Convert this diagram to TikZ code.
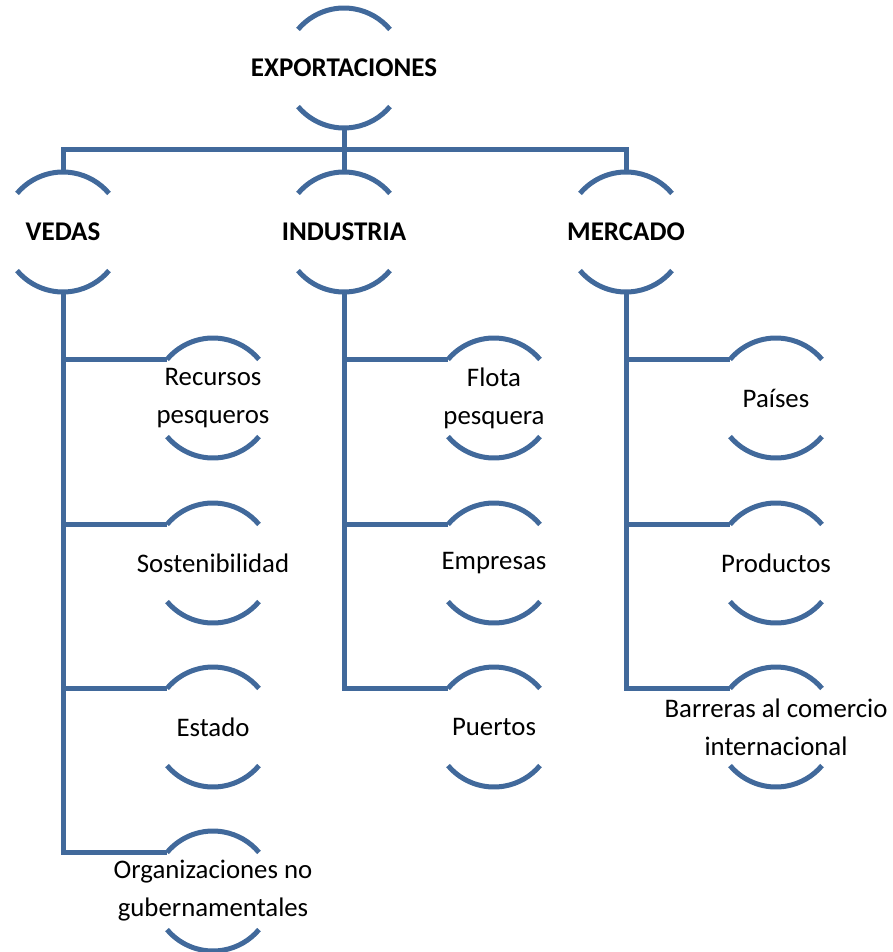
\documentclass[tikz,border=0pt]{standalone}
\usepackage{fontspec}
\setmainfont{Carlito}
\usetikzlibrary{positioning}
\definecolor{arcblue}{RGB}{65,105,155}

\begin{document}
\begin{tikzpicture}[x=1pt, y=1pt,
  hub/.style = {shape = circle, minimum size = 120pt, inner sep = 0pt, outer sep = 0pt},
  head/.style = {font = \fontsize{27}{32}\selectfont\bfseries, inner sep = 0pt},
  leaf/.style = {font = \fontsize{26.8}{38}\selectfont, align = center, inner sep = 0pt},
  link/.style = {draw = arcblue, line width = 5pt}]
\useasboundingbox (0,0) rectangle (893,-952);

\node[hub, label = {[head]center:EXPORTACIONES}] (exp) at (344,-68) {};
\node[hub, label = {[head]center:VEDAS}] (vedas) at (63,-232) {};
\node[hub, label = {[head]center:INDUSTRIA}] (ind) at (344,-232) {};
\node[hub, label = {[head]center:MERCADO}] (merc) at (626,-232) {};

\node[hub, label = {[leaf]center:Recursos\\pesqueros}] (rec) at (213,-398) {};
\node[hub, label = {[leaf]center:Sostenibilidad}] (sos) at (213,-563) {};
\node[hub, label = {[leaf]center:Estado}] (est) at (213,-727) {};
\node[hub, label = {[leaf]center:Organizaciones no\\gubernamentales}] (ong) at (213,-891) {};

\node[hub, label = {[leaf]center:Flota\\pesquera}] (flo) at (494,-398) {};
\node[hub, label = {[leaf]center:Empresas}] (emp) at (494,-563) {};
\node[hub, label = {[leaf]center:Puertos}] (pue) at (494,-727) {};

\node[hub, label = {[leaf]center:Países}] (pai) at (776,-398) {};
\node[hub, label = {[leaf]center:Productos}] (pro) at (776,-563) {};
\node[hub, label = {[leaf]center:Barreras al comercio\\internacional}] (bar) at (776,-727) {};

% arcs above and below every text
\foreach \n in {exp,vedas,ind,merc,rec,sos,est,ong,flo,emp,pue,pai,pro,bar}
  \draw[link] (\n.140) arc[start angle = 140, end angle = 40, radius = 60pt]
              (\n.220) arc[start angle = 220, end angle = 320, radius = 60pt];

% connectors
\draw[link] (exp.south) -- (ind.north);
\draw[link] (vedas.north) -- ++(0,22) -| (merc.north);
\draw[link] (vedas.south) |- (ong.140);
\foreach \n in {rec,sos,est}
  \draw[link] (vedas.south |- \n.140) -- (\n.140);
\draw[link] (ind.south) |- (pue.140);
\foreach \n in {flo,emp}
  \draw[link] (ind.south |- \n.140) -- (\n.140);
\draw[link] (merc.south) |- (bar.140);
\foreach \n in {pai,pro}
  \draw[link] (merc.south |- \n.140) -- (\n.140);
\end{tikzpicture}
\end{document}
